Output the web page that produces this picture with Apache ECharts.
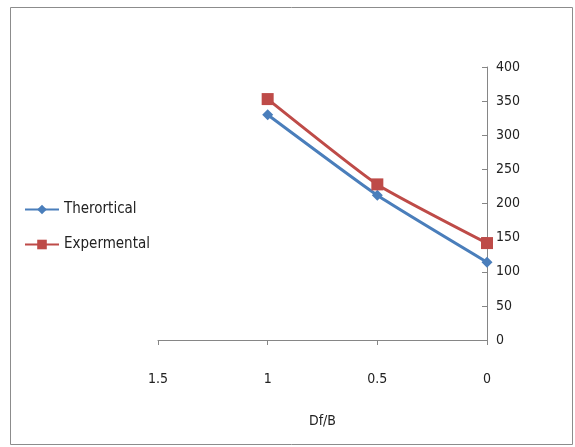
<!DOCTYPE html>
<html><head><meta charset="utf-8">
<script src="https://cdn.jsdelivr.net/npm/echarts@6/dist/echarts.min.js"></script>
<style>html,body{margin:0;padding:0;background:#fff}#c{width:575px;height:447px}</style>
</head><body><div id="c"></div>
<script>
var xValues = [1, 0.5, 0];
var theoretical = [330, 212, 114];
var experimental = [353, 228, 142];
var seriesNames = ['Therortical', 'Expermental'];
var xTitle = 'Df/B';

var font = '"Liberation Sans Narrow", "DejaVu Sans Condensed", sans-serif';
var chart = echarts.init(document.getElementById('c'));
chart.setOption({
  animation: false,
  backgroundColor: '#fff',
  graphic: [{type: 'rect', shape: {x: 10.5, y: 7.5, width: 562, height: 437},
    style: {fill: 'none', stroke: '#8c8c8c', lineWidth: 1}, silent: true}],
  legend: {
    orient: 'vertical', left: 19, top: 197, itemGap: 20,
    itemWidth: 34, itemHeight: 12,
    textStyle: {fontFamily: font, fontSize: 15, color: '#222'},
    data: seriesNames
  },
  grid: {left: 158, right: 88, top: 67, bottom: 107},
  xAxis: {
    type: 'value', min: 0, max: 1.5, interval: 0.5, inverse: true,
    name: xTitle, nameLocation: 'middle', nameGap: 74,
    nameTextStyle: {fontFamily: font, fontSize: 14, color: '#222'},
    axisLine: {onZero: false, lineStyle: {color: '#868686'}},
    axisTick: {show: true, length: 5, lineStyle: {color: '#868686'}},
    axisLabel: {margin: 32, fontFamily: font, fontSize: 14, color: '#222',
      formatter: function (v) { return String(v); }},
    splitLine: {show: false}
  },
  yAxis: {
    type: 'value', position: 'right', min: 0, max: 400, interval: 50,
    axisLine: {show: true, lineStyle: {color: '#868686'}},
    axisTick: {show: true, inside: true, length: 5, lineStyle: {color: '#868686'}},
    axisLabel: {margin: 9, fontFamily: font, fontSize: 14, color: '#222'},
    splitLine: {show: false}
  },
  series: [
    {name: seriesNames[0], type: 'line', smooth: 0.15,
      data: xValues.map(function (x, i) { return [x, theoretical[i]]; }),
      symbol: 'diamond', symbolSize: 11,
      lineStyle: {color: '#4a7ebb', width: 3},
      itemStyle: {color: '#4a7ebb'}},
    {name: seriesNames[1], type: 'line', smooth: 0.15,
      data: xValues.map(function (x, i) { return [x, experimental[i]]; }),
      symbol: 'rect', symbolSize: 12,
      lineStyle: {color: '#be4b48', width: 3},
      itemStyle: {color: '#be4b48'}}
  ]
});
</script></body></html>
